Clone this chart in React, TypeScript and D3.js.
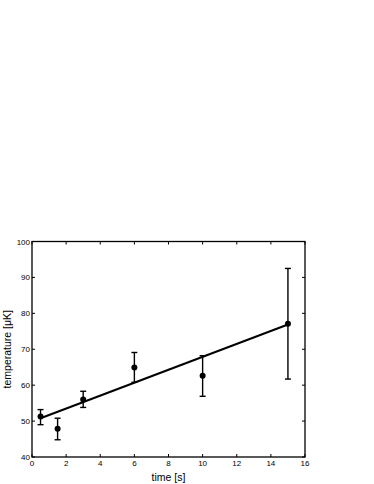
import React, { useEffect, useRef } from 'react';
import * as d3 from 'd3';

const times = [0.5, 1.5, 3, 6, 10, 15];
const temps = [51.3, 47.9, 56.0, 64.9, 62.6, 77.1];
const errLow = [49.0, 44.8, 53.8, 60.8, 56.9, 61.7];
const errHigh = [53.2, 50.8, 58.3, 69.1, 68.2, 92.5];
const fitX = [0.5, 15];
const fitY = [50.8, 76.9];
const xTicks = [0, 2, 4, 6, 8, 10, 12, 14, 16];
const yTicks = [40, 50, 60, 70, 80, 90, 100];

const App = () => {
    const svgRef = useRef<SVGSVGElement>(null);

    useEffect(() => {
        const width = 374;
        const height = 484;
        const margin = { top: 241.5, right: 69, bottom: 27, left: 32 };

        const root = d3.select(svgRef.current);
        root.selectAll("*").remove();
        root.attr("width", width).attr("height", height);

        const svg = root.append("g")
            .attr("transform", `translate(${margin.left},${margin.top})`);

        const innerWidth = width - margin.left - margin.right;
        const innerHeight = height - margin.top - margin.bottom;

        const x = d3.scaleLinear().domain([0, 16]).range([0, innerWidth]);
        const y = d3.scaleLinear().domain([40, 100]).range([innerHeight, 0]);

        const font = "Liberation Sans, Arial, sans-serif";
        const tickLen = 3;

        // box
        svg.append("rect")
            .attr("width", innerWidth)
            .attr("height", innerHeight)
            .attr("fill", "none")
            .attr("stroke", "#000")
            .attr("stroke-width", 1.3);

        // inward ticks, all four sides
        xTicks.forEach(t => {
            svg.append("line").attr("x1", x(t)).attr("x2", x(t))
                .attr("y1", innerHeight).attr("y2", innerHeight - tickLen)
                .attr("stroke", "#000");
            svg.append("line").attr("x1", x(t)).attr("x2", x(t))
                .attr("y1", 0).attr("y2", tickLen)
                .attr("stroke", "#000");
            svg.append("text")
                .attr("x", x(t)).attr("y", innerHeight + 9)
                .attr("text-anchor", "middle")
                .attr("font-family", font).attr("font-size", 8)
                .text(t);
        });
        yTicks.forEach(t => {
            svg.append("line").attr("x1", 0).attr("x2", tickLen)
                .attr("y1", y(t)).attr("y2", y(t))
                .attr("stroke", "#000");
            svg.append("line").attr("x1", innerWidth).attr("x2", innerWidth - tickLen)
                .attr("y1", y(t)).attr("y2", y(t))
                .attr("stroke", "#000");
            svg.append("text")
                .attr("x", -2).attr("y", y(t) + 3)
                .attr("text-anchor", "end")
                .attr("font-family", font).attr("font-size", 8)
                .text(t);
        });

        // fit line
        const line = d3.line<number>()
            .x((d, i) => x(fitX[i]))
            .y(d => y(d));
        svg.append("path")
            .datum(fitY)
            .attr("d", line)
            .attr("fill", "none")
            .attr("stroke", "#000")
            .attr("stroke-width", 2);

        // error bars
        const cap = 3;
        times.forEach((t, i) => {
            const g = svg.append("g").attr("stroke", "#000").attr("stroke-width", 1.4);
            g.append("line").attr("x1", x(t)).attr("x2", x(t))
                .attr("y1", y(errLow[i])).attr("y2", y(errHigh[i]));
            g.append("line").attr("x1", x(t) - cap).attr("x2", x(t) + cap)
                .attr("y1", y(errLow[i])).attr("y2", y(errLow[i]));
            g.append("line").attr("x1", x(t) - cap).attr("x2", x(t) + cap)
                .attr("y1", y(errHigh[i])).attr("y2", y(errHigh[i]));
            svg.append("circle")
                .attr("cx", x(t)).attr("cy", y(temps[i]))
                .attr("r", 3).attr("fill", "#000");
        });

        // axis labels
        svg.append("text")
            .attr("x", innerWidth / 2).attr("y", innerHeight + 24)
            .attr("text-anchor", "middle")
            .attr("font-family", font).attr("font-size", 10.5)
            .text("time [s]");
        svg.append("text")
            .attr("transform", `translate(${-21},${innerHeight / 2}) rotate(-90)`)
            .attr("text-anchor", "middle")
            .attr("font-family", font).attr("font-size", 10.5)
            .text("temperature [μK]");
    }, []);

    return (
        <svg ref={svgRef} style={{ position: "absolute", left: 0, top: 0, background: "#fff" }}></svg>
    );
};

export default App;
